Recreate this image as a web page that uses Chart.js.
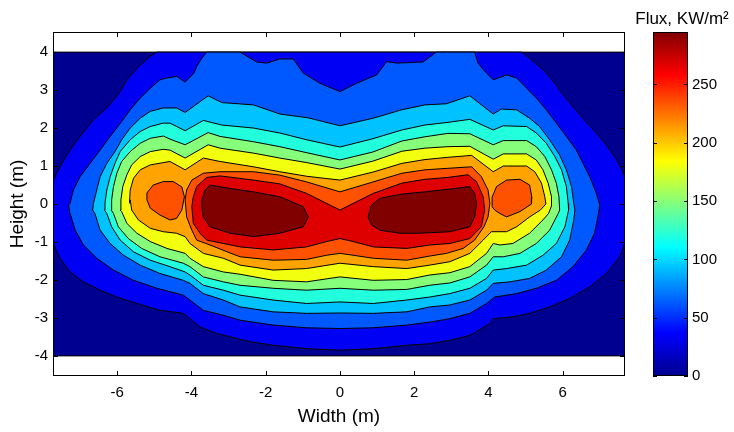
<!DOCTYPE html>
<html>
<head>
<meta charset="utf-8">
<script src="https://cdn.jsdelivr.net/npm/chart.js@4.4.1/dist/chart.umd.min.js"></script>
<style>
  body { margin: 0; background: #fff; }
  #wrap { position: relative; width: 734px; height: 432px; }
  #fluxChart { position: absolute; left: 0; top: 0; }
  #barChart { position: absolute; left: 630px; top: 0; }
</style>
</head>
<body>
<div id="wrap">
  <canvas id="fluxChart" width="734" height="432"></canvas>
  <canvas id="barChart" width="104" height="432"></canvas>
</div>
<script>
var xTicks = [-6, -4, -2, 0, 2, 4, 6];
var yTicks = [-4, -3, -2, -1, 0, 1, 2, 3, 4];
var fluxTicks = [0, 50, 100, 150, 200, 250];
var fluxRange = [0, 295];

// contour outlines, [width m, height m], one closed line per filled level
var level0 = [[-7.8,-4],[7.8,-4],[7.8,4],[-7.8,4]];
var level1 = [[-7.8,0.63],[-7.72,0.63],[-7.63,0.81],[-7.49,1.07],[-7.27,1.42],[-7.0,1.78],[-6.64,2.22],[-6.24,2.57],[-5.92,2.96],[-5.74,3.27],[-5.43,3.62],[-5.11,3.89],[-4.93,4.0],[4.89,4.0],[5.11,3.84],[5.38,3.62],[5.56,3.45],[5.79,3.18],[6.01,2.88],[6.24,2.61],[6.55,2.26],[6.91,1.87],[7.18,1.56],[7.40,1.25],[7.58,0.94],[7.67,0.72],[7.8,0.72],[7.8,-1.04],[7.67,-1.04],[7.54,-1.39],[7.18,-1.83],[6.73,-2.18],[6.19,-2.49],[5.65,-2.71],[5.11,-2.88],[4.66,-2.97],[4.13,-3.02],[4.04,-3.15],[3.50,-3.46],[2.96,-3.59],[2.42,-3.68],[1.80,-3.72],[0.90,-3.81],[0,-3.85],[-0.90,-3.81],[-1.80,-3.72],[-2.42,-3.63],[-2.78,-3.54],[-3.32,-3.41],[-3.77,-3.24],[-4.04,-3.02],[-4.22,-2.88],[-4.85,-2.80],[-5.47,-2.62],[-6.01,-2.45],[-6.46,-2.27],[-6.91,-2.05],[-7.27,-1.79],[-7.54,-1.43],[-7.72,-1.04],[-7.8,-1.04]];
var level2 = [[-7.31,-0.03],[-7.27,0.02],[-7.18,0.37],[-7.0,0.72],[-6.73,1.07],[-6.46,1.42],[-6.19,1.78],[-5.88,2.17],[-5.65,2.48],[-5.38,2.79],[-5.11,3.05],[-4.85,3.27],[-4.66,3.32],[-4.40,3.36],[-4.17,3.21],[-3.93,3.45],[-3.86,3.62],[-3.72,3.84],[-3.59,4.0],[-2.69,4.0],[-2.24,3.74],[-1.97,3.71],[-1.62,3.82],[-1.26,3.82],[-0.99,3.45],[-0.54,3.18],[0,2.96],[0.45,3.18],[0.99,3.40],[1.26,3.75],[1.53,3.71],[2.24,3.74],[2.60,4.0],[3.63,4.0],[3.72,3.71],[3.86,3.54],[4.13,3.27],[4.49,3.40],[4.76,3.32],[5.03,3.05],[5.29,2.79],[5.56,2.48],[5.83,2.13],[6.10,1.78],[6.37,1.42],[6.55,1.07],[6.73,0.72],[6.91,0.28],[7.0,-0.03],[6.95,-0.34],[6.86,-0.77],[6.64,-1.21],[6.28,-1.65],[5.83,-2.01],[5.29,-2.22],[4.76,-2.36],[4.17,-2.45],[3.95,-2.62],[3.50,-2.88],[2.96,-3.02],[2.42,-3.11],[1.80,-3.19],[0.90,-3.26],[0,-3.28],[-0.90,-3.26],[-1.80,-3.19],[-2.69,-3.06],[-3.14,-2.93],[-3.68,-2.80],[-4.04,-2.53],[-4.22,-2.40],[-4.93,-2.22],[-5.56,-2.01],[-6.10,-1.74],[-6.55,-1.43],[-6.91,-1.08],[-7.13,-0.69],[-7.27,-0.25]];
var level3 = [[-6.66,-0.16],[-6.64,0.02],[-6.55,0.37],[-6.46,0.72],[-6.28,1.07],[-6.06,1.38],[-5.88,1.69],[-5.65,2.0],[-5.38,2.26],[-5.11,2.44],[-4.76,2.53],[-4.40,2.53],[-4.17,2.41],[-3.55,2.85],[-3.18,2.67],[-2.33,2.61],[-1.62,2.37],[-0.86,2.27],[0,2.06],[0.90,2.26],[1.66,2.48],[2.29,2.61],[2.87,2.64],[3.50,2.85],[4.13,2.37],[4.35,2.50],[4.76,2.48],[5.11,2.26],[5.38,2.04],[5.65,1.69],[5.92,1.29],[6.10,0.90],[6.24,0.46],[6.30,0.02],[6.33,-0.16],[6.30,-0.42],[6.19,-0.95],[5.97,-1.39],[5.56,-1.74],[5.11,-1.96],[4.58,-2.05],[4.13,-2.09],[3.95,-2.27],[3.50,-2.53],[2.96,-2.66],[2.42,-2.71],[1.80,-2.84],[0.90,-2.88],[0,-2.87],[-0.90,-2.88],[-1.80,-2.84],[-2.69,-2.71],[-3.14,-2.53],[-3.68,-2.36],[-4.04,-2.09],[-4.22,-2.01],[-4.85,-1.83],[-5.38,-1.61],[-5.83,-1.35],[-6.19,-1.04],[-6.46,-0.69],[-6.60,-0.25]];
var level4 = [[-6.34,-0.16],[-6.33,0.02],[-6.28,0.37],[-6.19,0.72],[-6.06,1.07],[-5.92,1.38],[-5.65,1.69],[-5.38,1.91],[-5.11,2.04],[-4.76,2.13],[-4.58,2.13],[-4.17,1.93],[-3.68,2.20],[-3.18,2.08],[-2.33,2.00],[-1.62,1.87],[-0.89,1.69],[0,1.50],[0.89,1.72],[1.67,1.95],[2.29,2.08],[2.91,2.15],[3.50,2.23],[4.13,1.95],[4.40,2.06],[5.03,2.04],[5.29,1.87],[5.56,1.60],[5.79,1.25],[5.97,0.90],[6.10,0.46],[6.15,0.02],[6.16,-0.16],[6.06,-0.60],[5.83,-1.04],[5.47,-1.35],[5.03,-1.61],[4.49,-1.70],[4.13,-1.74],[3.95,-1.96],[3.50,-2.22],[2.96,-2.36],[2.42,-2.45],[1.80,-2.53],[0.90,-2.62],[0,-2.58],[-0.90,-2.62],[-1.80,-2.53],[-2.69,-2.40],[-3.14,-2.27],[-3.68,-2.14],[-4.04,-1.87],[-4.17,-1.79],[-4.58,-1.65],[-5.11,-1.48],[-5.56,-1.26],[-5.92,-0.95],[-6.15,-0.60],[-6.28,-0.25]];
var level5 = [[-6.16,-0.16],[-6.15,0.11],[-6.10,0.46],[-6.01,0.81],[-5.88,1.12],[-5.65,1.38],[-5.38,1.60],[-5.11,1.73],[-4.76,1.79],[-4.58,1.71],[-4.17,1.56],[-3.55,1.88],[-3.23,1.78],[-2.33,1.64],[-1.62,1.51],[-0.89,1.35],[0,1.16],[0.89,1.37],[1.67,1.66],[2.29,1.77],[2.91,1.86],[3.50,1.85],[4.13,1.56],[4.40,1.67],[5.03,1.67],[5.29,1.51],[5.52,1.25],[5.70,0.90],[5.83,0.55],[5.90,0.19],[5.92,-0.16],[5.88,-0.25],[5.65,-0.69],[5.29,-1.04],[4.85,-1.30],[4.40,-1.39],[4.13,-1.39],[3.95,-1.61],[3.50,-1.92],[2.96,-2.08],[2.42,-2.14],[1.80,-2.25],[0.90,-2.27],[0,-2.22],[-0.90,-2.27],[-1.80,-2.22],[-2.69,-2.14],[-3.14,-2.05],[-3.68,-1.92],[-4.04,-1.65],[-4.22,-1.56],[-4.85,-1.39],[-5.34,-1.17],[-5.70,-0.91],[-5.97,-0.60],[-6.10,-0.25]];
var level6 = [[-5.92,-0.16],[-5.90,0.11],[-5.85,0.46],[-5.74,0.77],[-5.61,1.03],[-5.38,1.25],[-5.11,1.38],[-4.76,1.44],[-4.58,1.42],[-4.17,1.21],[-3.55,1.56],[-3.23,1.47],[-2.33,1.34],[-1.62,1.21],[-0.89,1.09],[0,0.92],[0.89,1.13],[1.67,1.39],[2.29,1.47],[2.91,1.51],[3.50,1.52],[4.13,1.18],[4.40,1.32],[5.03,1.32],[5.29,1.16],[5.47,0.90],[5.61,0.55],[5.70,0.19],[5.70,-0.05],[5.62,-0.25],[5.47,-0.42],[5.11,-0.77],[4.66,-1.04],[4.31,-1.08],[4.13,-1.04],[3.95,-1.30],[3.50,-1.65],[2.96,-1.81],[2.42,-1.87],[1.80,-1.99],[0.90,-2.01],[0,-1.92],[-0.90,-2.05],[-1.80,-2.01],[-2.69,-1.85],[-3.14,-1.79],[-3.68,-1.65],[-4.04,-1.43],[-4.17,-1.30],[-4.66,-1.17],[-5.11,-0.99],[-5.47,-0.77],[-5.74,-0.51],[-5.88,-0.20]];
var level7 = [[-5.67,0.02],[-5.65,0.37],[-5.56,0.68],[-5.38,0.90],[-5.11,1.03],[-4.58,1.12],[-4.17,0.90],[-3.68,1.21],[-3.23,1.12],[-2.33,0.98],[-1.62,0.85],[-0.89,0.73],[0,0.63],[0.89,0.84],[1.67,1.07],[2.29,1.17],[2.91,1.23],[3.55,1.28],[4.13,0.85],[4.40,1.00],[5.03,1.00],[5.25,0.85],[5.43,0.55],[5.52,0.19],[5.55,0.0],[5.40,-0.16],[5.11,-0.34],[4.76,-0.60],[4.49,-0.73],[4.08,-0.73],[3.86,-0.95],[3.50,-1.30],[2.96,-1.52],[2.42,-1.61],[1.80,-1.70],[0.90,-1.65],[0,-1.56],[-0.90,-1.70],[-1.80,-1.74],[-2.69,-1.61],[-3.14,-1.43],[-3.68,-1.30],[-4.04,-1.04],[-4.17,-0.86],[-4.40,-0.77],[-4.76,-0.73],[-5.11,-0.64],[-5.43,-0.42],[-5.61,-0.16],[-5.65,0.11]];
var level8 = [[-4.17,0.11],[-4.13,0.37],[-3.99,0.63],[-3.68,0.81],[-3.23,0.85],[-2.33,0.85],[-1.62,0.76],[-0.89,0.58],[0,0.32],[0.89,0.58],[1.67,0.81],[2.29,0.90],[2.91,0.94],[3.55,0.98],[3.81,0.72],[3.99,0.37],[4.04,0.02],[3.99,-0.34],[3.88,-0.60],[3.63,-0.95],[3.32,-1.17],[2.87,-1.30],[2.42,-1.37],[1.80,-1.48],[0.90,-1.43],[0.36,-1.35],[0,-1.30],[-0.36,-1.35],[-0.90,-1.46],[-1.80,-1.48],[-2.69,-1.39],[-2.96,-1.29],[-3.50,-1.08],[-3.86,-0.95],[-3.99,-0.69],[-4.13,-0.34]];
var level8Left = [[-5.20,0.29],[-5.03,0.50],[-4.76,0.59],[-4.49,0.59],[-4.26,0.45],[-4.19,0.19],[-4.26,-0.16],[-4.40,-0.38],[-4.58,-0.42],[-4.85,-0.29],[-5.11,-0.11],[-5.20,0.11]];
var level8Right = [[4.10,0.18],[4.22,0.46],[4.49,0.63],[4.85,0.65],[5.11,0.50],[5.17,0.18],[5.16,0.0],[4.85,-0.20],[4.49,-0.34],[4.31,-0.25],[4.17,-0.16],[4.10,-0.07]];
var level9 = [[-3.99,-0.07],[-3.95,0.19],[-3.86,0.46],[-3.59,0.70],[-3.23,0.74],[-2.33,0.63],[-1.62,0.53],[-0.90,0.28],[0,-0.16],[0.90,0.28],[1.67,0.55],[2.29,0.65],[2.91,0.70],[3.45,0.77],[3.68,0.59],[3.86,0.19],[3.90,-0.16],[3.81,-0.60],[3.68,-0.73],[3.50,-0.91],[2.96,-1.04],[2.42,-1.08],[1.80,-1.17],[0.90,-1.13],[0.36,-0.99],[0,-0.91],[-0.36,-0.99],[-0.90,-1.13],[-1.80,-1.21],[-2.69,-1.13],[-3.59,-0.95],[-3.77,-0.77],[-3.95,-0.51]];
var level10Left = [[-3.72,0.11],[-3.63,0.37],[-3.50,0.50],[-2.96,0.41],[-2.33,0.32],[-1.62,0.19],[-0.99,-0.07],[-0.85,-0.34],[-0.99,-0.60],[-1.62,-0.77],[-2.33,-0.86],[-2.96,-0.77],[-3.50,-0.60],[-3.68,-0.34],[-3.72,-0.07]];
var level10Right = [[0.85,-0.03],[1.08,0.15],[1.66,0.26],[2.29,0.32],[2.92,0.39],[3.50,0.46],[3.63,0.28],[3.68,0.02],[3.63,-0.34],[3.50,-0.60],[2.96,-0.73],[2.15,-0.77],[1.62,-0.77],[1.08,-0.69],[0.85,-0.55],[0.76,-0.34]];

var outlines = [level0, level1, level2, level3, level4, level5, level6, level7, level8, level8Left, level8Right, level9, level10Left, level10Right];
var outlineLevels = [0, 1, 2, 3, 4, 5, 6, 7, 8, 8, 8, 9, 10, 10];

var levelColors = ['#000090', '#0000F5', '#0058FF', '#00C2FF', '#22FFDD', '#86FF7A', '#F2FF0E', '#FFA300', '#FF5200', '#DE0000', '#800000'];
var jetStops = [[0, '#00008F'], [0.125, '#0000FF'], [0.375, '#00FFFF'], [0.625, '#FFFF00'], [0.875, '#FF0000'], [1, '#800000']];

var FONT = "'Liberation Sans', Arial, Helvetica, sans-serif";
Chart.defaults.font.family = FONT;
Chart.defaults.color = '#000';

// MATLAB style box with inward tick marks
var frameTicks = {
  id: 'frameTicks',
  afterDatasetsDraw: function(chart, args, opts) {
    var ctx = chart.ctx, a = chart.chartArea, len = opts.len || 5;
    ctx.save();
    ctx.strokeStyle = '#000';
    ctx.lineWidth = 1;
    ctx.beginPath();
    Object.keys(chart.scales).forEach(function(k) {
      var s = chart.scales[k];
      if (!s.options.display) return;
      s.ticks.forEach(function(t, i) {
        var p = Math.round(s.getPixelForTick(i)) + 0.5;
        if (s.isHorizontal()) {
          ctx.moveTo(p, a.bottom); ctx.lineTo(p, a.bottom - len);
          ctx.moveTo(p, a.top); ctx.lineTo(p, a.top + len);
        } else {
          ctx.moveTo(a.left, p); ctx.lineTo(a.left + len, p);
          ctx.moveTo(a.right, p); ctx.lineTo(a.right - len, p);
        }
      });
    });
    ctx.stroke();
    ctx.strokeRect(Math.round(a.left) + 0.5, Math.round(a.top) + 0.5, Math.round(a.width) - 1, Math.round(a.height) - 1);
    ctx.restore();
  }
};

function setTicks(list) {
  return function(s) { s.ticks = list.map(function(v) { return { value: v }; }); };
}

var datasets = outlines.map(function(pts, i) {
  var lvl = outlineLevels[i];
  var d = pts.map(function(p) { return { x: p[0], y: p[1] }; });
  d.push({ x: pts[0][0], y: pts[0][1] });
  return {
    data: d,
    showLine: true,
    fill: 'shape',
    backgroundColor: levelColors[lvl],
    borderColor: '#000',
    borderWidth: 1,
    pointRadius: 0,
    pointHoverRadius: 0,
    tension: 0,
    order: 20 - lvl
  };
});

new Chart(document.getElementById('fluxChart'), {
  type: 'scatter',
  data: { datasets: datasets },
  plugins: [frameTicks],
  options: {
    responsive: false,
    animation: false,
    events: [],
    layout: { padding: { top: 32, right: 109, left: 0, bottom: 0 } },
    plugins: { legend: { display: false }, tooltip: { enabled: false }, frameTicks: { len: 5 } },
    scales: {
      x: {
        type: 'linear', min: -7.73, max: 7.68,
        grid: { display: false, drawTicks: false }, border: { display: false },
        afterBuildTicks: setTicks(xTicks),
        afterFit: function(s) { s.height = 56; },
        ticks: { font: { size: 15 }, padding: 8, maxRotation: 0 },
        title: { display: true, text: 'Width (m)', font: { size: 19 }, padding: { top: 0, bottom: 4 } }
      },
      y: {
        type: 'linear', min: -4.53, max: 4.53,
        grid: { display: false, drawTicks: false }, border: { display: false },
        afterBuildTicks: setTicks(yTicks),
        afterFit: function(s) { s.width = 53; },
        ticks: { font: { size: 15 }, padding: 5 },
        title: { display: true, text: 'Height (m)', font: { size: 19 }, padding: { top: 6, bottom: 0 } }
      }
    }
  }
});

new Chart(document.getElementById('barChart'), {
  type: 'bar',
  data: {
    labels: [''],
    datasets: [{
      data: [fluxRange],
      barPercentage: 1,
      categoryPercentage: 1,
      borderWidth: 0,
      backgroundColor: function(c) {
        var ch = c.chart, ys = ch.scales.y;
        if (!ch.chartArea || !ys) return '#000090';
        var g = ch.ctx.createLinearGradient(0, ys.getPixelForValue(fluxRange[0]), 0, ys.getPixelForValue(fluxRange[1]));
        jetStops.forEach(function(s) { g.addColorStop(s[0], s[1]); });
        return g;
      }
    }]
  },
  plugins: [frameTicks],
  options: {
    responsive: false,
    animation: false,
    events: [],
    layout: { padding: { top: 0, right: 0, left: 0, bottom: 56 } },
    plugins: {
      legend: { display: false }, tooltip: { enabled: false }, frameTicks: { len: 4 },
      title: { display: true, text: 'Flux, KW/m²', font: { size: 17, weight: 'normal' }, color: '#000', padding: { top: 9, bottom: 2.6 } }
    },
    scales: {
      x: { display: false },
      // empty spacer on the left so the bar sits where the reference colour bar is
      gap: {
        position: 'left', display: true, min: 0, max: 1,
        grid: { display: false, drawTicks: false }, border: { display: false },
        ticks: { display: false },
        afterBuildTicks: function(s) { s.ticks = []; },
        afterFit: function(s) { s.width = 23; }
      },
      y: {
        position: 'right', min: fluxRange[0], max: fluxRange[1],
        grid: { display: false, drawTicks: false }, border: { display: false },
        afterBuildTicks: setTicks(fluxTicks),
        afterFit: function(s) { s.width = 46; },
        ticks: { font: { size: 15 }, padding: 4 }
      }
    }
  }
});
</script>
</body>
</html>
